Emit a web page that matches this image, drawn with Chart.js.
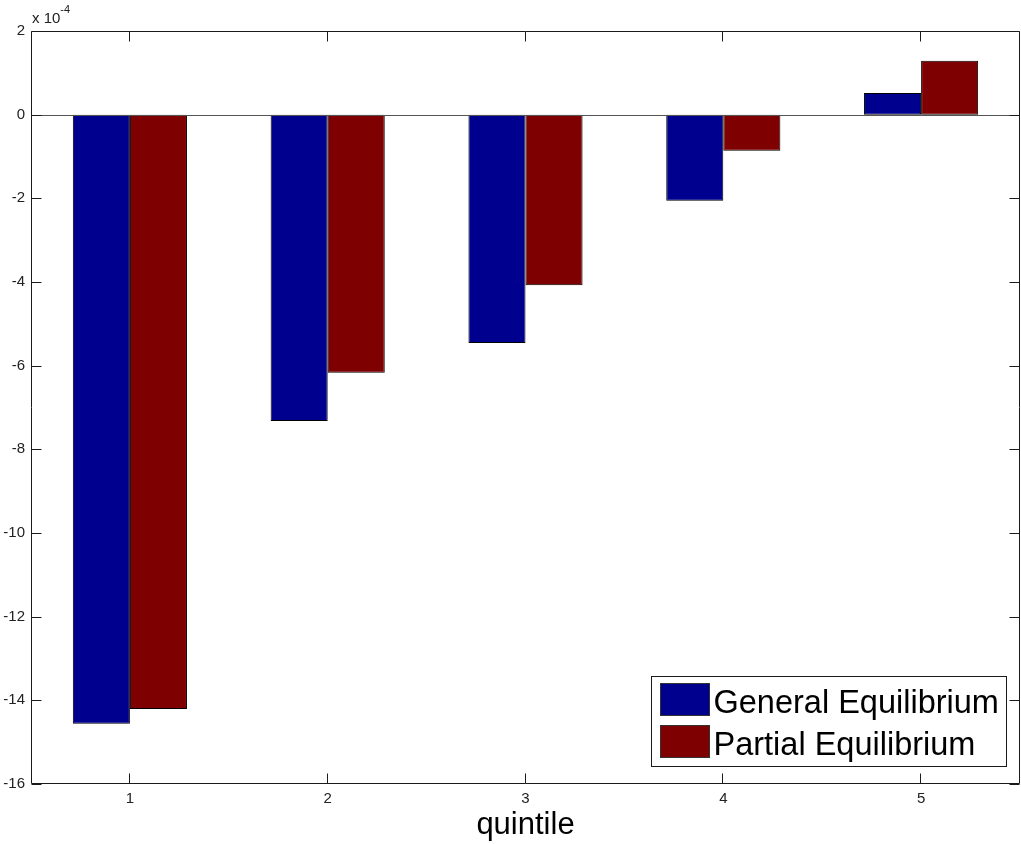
<!DOCTYPE html>
<html>
<head>
<meta charset="utf-8">
<script src="https://cdn.jsdelivr.net/npm/chart.js@4.4.1/dist/chart.umd.min.js"></script>
<style>
  html, body { margin: 0; padding: 0; background: #ffffff; }
  #wrap { width: 1021px; height: 844px; }
</style>
</head>
<body>
<div id="wrap"><canvas id="c" width="1021" height="844"></canvas></div>
<script>
// Welfare change by income quintile, in units of 10^-4
const quintiles = ['1', '2', '3', '4', '5'];
const generalEquilibrium = [-14.56, -7.32, -5.46, -2.06, 0.52];
const partialEquilibrium = [-14.21, -6.17, -4.08, -0.86, 1.29];
const yTickValues = [-16, -14, -12, -10, -8, -6, -4, -2, 0, 2];
const scaleExponent = '-4';
const seriesNames = ['General Equilibrium', 'Partial Equilibrium'];
const seriesColors = ['#00008f', '#7f0000'];
const xTitle = 'quintile';

const FONT = '"Liberation Sans", Arial, Helvetica, sans-serif';
const AXIS_COLOR = '#1a1a1a';

// Box around the axes, inward ticks on all four sides, zero baseline,
// exponent label and the legend inside the lower-right corner.
const matlabFrame = {
  id: 'matlabFrame',
  afterDatasetsDraw(chart) {
    const { ctx, chartArea: a, scales: { x, y } } = chart;
    ctx.save();
    ctx.lineWidth = 1;

    // baseline at zero
    const y0 = Math.round(y.getPixelForValue(0)) + 0.5;
    ctx.strokeStyle = '#555555';
    ctx.beginPath();
    ctx.moveTo(a.left, y0); ctx.lineTo(a.right, y0);
    ctx.stroke();

    // frame
    const L = a.left + 0.5, R = a.right - 0.5, T = a.top + 0.5, B = a.bottom - 0.5;
    ctx.strokeStyle = AXIS_COLOR;
    ctx.beginPath();
    ctx.moveTo(L, T); ctx.lineTo(R, T); ctx.lineTo(R, B); ctx.lineTo(L, B); ctx.closePath();
    ctx.stroke();

    // tick marks
    const tl = 10;
    ctx.beginPath();
    y.ticks.forEach(t => {
      const py = Math.round(y.getPixelForValue(t.value)) + 0.5;
      ctx.moveTo(L, py); ctx.lineTo(L + tl, py);
      ctx.moveTo(R, py); ctx.lineTo(R - tl, py);
    });
    quintiles.forEach((q, i) => {
      const px = Math.round(x.getPixelForValue(i)) - 0.5;
      ctx.moveTo(px, B); ctx.lineTo(px, B - tl);
      ctx.moveTo(px, T); ctx.lineTo(px, T + tl);
    });
    ctx.stroke();

    // exponent label
    ctx.fillStyle = '#222222';
    ctx.textBaseline = 'alphabetic';
    ctx.textAlign = 'left';
    ctx.font = '15px ' + FONT;
    const base = 'x 10';
    ctx.fillText(base, a.left + 1, 23);
    const bw = ctx.measureText(base).width;
    ctx.font = '11px ' + FONT;
    ctx.fillText(scaleExponent, a.left + 1 + bw, 13);

    // legend
    const lw = 355, lh = 90;
    const lx = Math.round(a.right - 14 - lw) + 0.5;
    const ly = Math.round(a.bottom - 18 - lh) + 0.5;
    ctx.fillStyle = '#ffffff';
    ctx.fillRect(lx, ly, lw, lh);
    ctx.strokeStyle = AXIS_COLOR;
    ctx.strokeRect(lx, ly, lw, lh);
    ctx.font = '32.5px ' + FONT;
    chart.data.datasets.forEach((ds, i) => {
      const sy = ly + 7 + i * 42;
      ctx.fillStyle = ds.backgroundColor;
      ctx.fillRect(lx + 9, sy, 49, 32);
      ctx.strokeStyle = '#333333';
      ctx.strokeRect(lx + 9, sy, 49, 32);
      ctx.fillStyle = '#000000';
      ctx.fillText(ds.label, lx + 62, sy + 29);
    });
    ctx.restore();
  }
};

new Chart(document.getElementById('c'), {
  type: 'bar',
  data: {
    labels: quintiles,
    datasets: [
      { label: seriesNames[0], data: generalEquilibrium, backgroundColor: seriesColors[0] },
      { label: seriesNames[1], data: partialEquilibrium, backgroundColor: seriesColors[1] }
    ]
  },
  options: {
    responsive: false,
    animation: false,
    devicePixelRatio: 1,
    layout: { padding: { top: 31, right: 1, bottom: 0, left: 0 } },
    datasets: {
      bar: {
        borderColor: '#000000',
        borderWidth: 1,
        borderSkipped: false,
        categoryPercentage: 0.577,
        barPercentage: 1.0
      }
    },
    plugins: { legend: { display: false }, tooltip: { enabled: false } },
    scales: {
      x: {
        offset: true,
        grid: { display: false, drawTicks: false },
        border: { display: false },
        ticks: { color: '#222222', font: { family: FONT, size: 15 }, padding: 6, maxRotation: 0 },
        title: {
          display: true,
          text: xTitle,
          color: '#000000',
          font: { family: FONT, size: 31 },
          padding: { top: 0, bottom: 0 }
        },
        afterFit(scale) { scale.height = 60; }
      },
      y: {
        min: -16,
        max: 2,
        afterBuildTicks(scale) { scale.ticks = yTickValues.map(v => ({ value: v })); },
        grid: { display: false, drawTicks: false },
        border: { display: false },
        ticks: { color: '#222222', font: { family: FONT, size: 15 }, padding: 6 },
        afterFit(scale) { scale.width = 31; }
      }
    }
  },
  plugins: [matlabFrame]
});
</script>
</body>
</html>
